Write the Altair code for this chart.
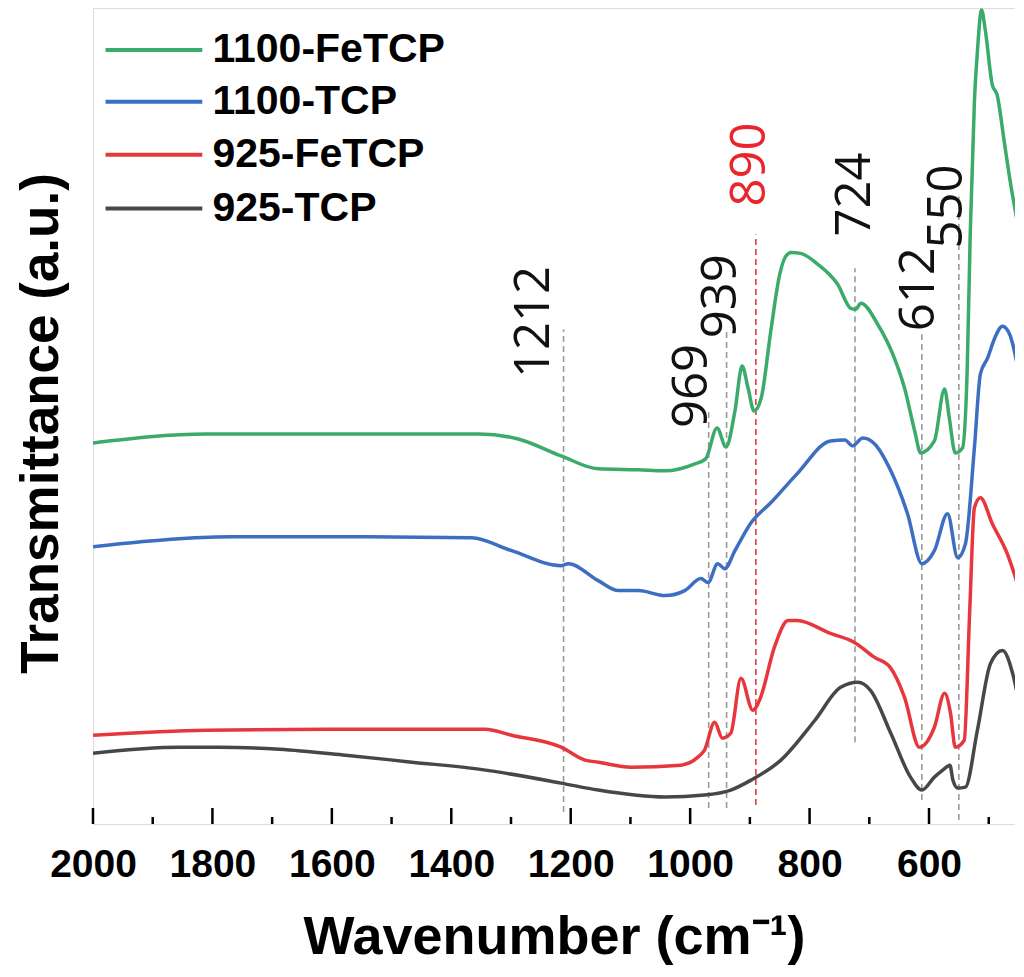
import altair as alt
import pandas as pd

# ---------------- data ----------------
series_names = ["1100-FeTCP", "1100-TCP", "925-FeTCP", "925-TCP"]
series_colors = ["#3aab6b", "#3c6ec2", "#e6373d", "#474747"]

green_wn = [2000, 1810, 1655, 1488, 1354, 1288, 1216, 1154, 1087, 1042,
            992, 974, 955, 940, 925, 913, 903, 893, 881, 865,
            850, 840, 831, 815, 786, 753, 731, 723, 714, 686,
            658, 641, 624, 614, 591, 574, 566, 556, 544, 536,
            531, 524, 519, 512, 506, 494, 486, 474, 464, 450]
green_t = [382, 391, 391, 391, 391, 386, 369, 356, 355, 354,
           361, 366, 397, 378, 414, 459, 437, 414, 427, 494,
           551, 569, 573, 572, 561, 541, 517, 516, 522, 501,
           467, 437, 394, 372, 384, 436, 407, 372, 377, 457,
           591, 724, 774, 816, 797, 741, 731, 684, 644, 597]

blue_wn = [2000, 1856, 1767, 1572, 1366, 1299, 1216, 1204, 1154, 1120,
           1087, 1042, 1009, 982, 970, 954, 942, 925, 898, 865,
           821, 765, 741, 728, 711, 691, 664, 636, 612, 591,
           569, 552, 539, 524, 514, 502, 490, 477, 465, 450]
blue_t = [278, 286, 288, 288, 287, 274, 259, 261, 244, 234,
          234, 229, 234, 246, 242, 261, 256, 274, 302, 322,
          351, 384, 385, 379, 387, 381, 354, 311, 261, 274,
          311, 267, 281, 377, 451, 467, 487, 499, 491, 454]

red_wn = [2000, 1810, 1571, 1343, 1299, 1216, 1176, 1154, 1099, 1016,
          987, 976, 959, 946, 932, 915, 895, 882, 859, 836,
          821, 765, 725, 691, 665, 641, 616, 591, 574, 564,
          556, 541, 532, 524, 514, 494, 469, 450]
red_t = [89, 94, 95, 95, 89, 77, 64, 62, 57, 59,
         67, 74, 102, 86, 91, 146, 114, 127, 177, 204,
         204, 191, 182, 167, 157, 127, 77, 97, 131, 111,
         77, 84, 211, 317, 327, 301, 271, 237]

gray_wn = [2000, 1856, 1789, 1688, 1577, 1466, 1354, 1216, 1154, 1042,
           976, 932, 898, 848, 791, 748, 719, 698, 664, 631,
           612, 591, 577, 565, 560, 552, 539, 519, 497, 477,
           460, 450]
gray_t = [71, 77, 77, 75, 69, 62, 55, 41, 34, 27,
          29, 34, 44, 64, 104, 137, 142, 134, 91, 47,
          34, 47, 54, 59, 44, 36, 37, 94, 161, 174,
          151, 124]

# peak annotations
ann_labels = ["1212", "969", "939", "890", "724", "612", "550"]
ann_label_x = [1237, 972, 923, 875, 699, 591, 544]
ann_label_y = [447, 397, 487, 619, 589, 494, 577]
ann_colors = ["#111111", "#111111", "#111111", "#e8262b", "#111111", "#111111", "#111111"]
ann_line_x = [1212, 969, 939, 890, 724, 612, 550]
ann_line_top = [496, 414, 494, 591, 557, 491, 629]
ann_line_bottom = [12, 16, 16, 19, 82, 24, 4]
ann_line_colors = ["#9a9a9a", "#9a9a9a", "#9a9a9a", "#e03c3c", "#9a9a9a", "#9a9a9a", "#9a9a9a"]

# axis ticks
major_ticks = [2000, 1800, 1600, 1400, 1200, 1000, 800, 600]
minor_ticks = [1900, 1700, 1500, 1300, 1100, 900, 700, 500]

# legend placement (data units)
legend_y = [776, 724, 671, 617]
legend_x1, legend_x2, legend_text_x = 1979, 1817, 1800

# ---------------- build tables ----------------
frames = []
for name, wn, t in zip(series_names,
                       [green_wn, blue_wn, red_wn, gray_wn],
                       [green_t, blue_t, red_t, gray_t]):
    frames.append(pd.DataFrame({"wn": wn, "t": t, "series": name}))
df = pd.concat(frames, ignore_index=True)

ann_df = pd.DataFrame({"label": ann_labels, "x": ann_label_x, "y": ann_label_y, "c": ann_colors})
dash_df = pd.DataFrame({"x": ann_line_x, "y1": ann_line_bottom, "y2": ann_line_top, "c": ann_line_colors})
tick_df = pd.DataFrame({
    "x": major_ticks + minor_ticks,
    "y1": [0] * (len(major_ticks) + len(minor_ticks)),
    "y2": [16] * len(major_ticks) + [7] * len(minor_ticks),
})
leg_df = pd.DataFrame({
    "series": series_names, "y": legend_y,
    "x1": [legend_x1] * 4, "x2": [legend_x2] * 4, "tx": [legend_text_x] * 4,
})

x_scale = alt.Scale(domain=[2000, 456], nice=False, zero=False)
y_scale = alt.Scale(domain=[0, 818], nice=False, zero=False)
color_scale = alt.Scale(domain=series_names, range=series_colors)

x_axis = alt.Axis(
    title="Wavenumber (cm⁻¹)", values=major_ticks, format="d",
    labelFont="Liberation Sans", labelFontSize=39, labelFontWeight="bold",
    labelColor="black", labelPadding=52, labelBaseline="alphabetic",
    labelFlush=False, labelOverlap=False,
    ticks=False, tickSize=0, domain=False, grid=False,
    titleFont="Liberation Sans", titleFontSize=54, titleFontWeight="bold",
    titleColor="black", titleY=129, titleBaseline="alphabetic",
)
y_axis = alt.Axis(
    title="Transmittance (a.u.)", labels=False, ticks=False, domain=False, grid=False,
    titleFont="Liberation Sans", titleFontSize=53, titleFontWeight="bold",
    titleColor="black", titleAngle=270, titleX=-36, titleY=415,
    titleBaseline="alphabetic", titleAlign="center",
)

lines = alt.Chart(df).mark_line(strokeWidth=3.5, clip=True, interpolate="monotone").encode(
    x=alt.X("wn:Q", scale=x_scale, axis=x_axis),
    y=alt.Y("t:Q", scale=y_scale, axis=y_axis),
    color=alt.Color("series:N", scale=color_scale, legend=None),
    detail="series:N",
)

dashes = alt.Chart(dash_df).mark_rule(strokeWidth=1.6, strokeDash=[6, 4]).encode(
    x=alt.X("x:Q", scale=x_scale),
    y=alt.Y("y1:Q", scale=y_scale),
    y2="y2:Q",
    color=alt.Color("c:N", scale=None),
)

ann_text = alt.Chart(ann_df).mark_text(
    angle=270, align="left", baseline="alphabetic", font="Open Sans", fontSize=49
).encode(
    x=alt.X("x:Q", scale=x_scale),
    y=alt.Y("y:Q", scale=y_scale),
    text="label:N",
    color=alt.Color("c:N", scale=None),
)

ticks = alt.Chart(tick_df).mark_rule(strokeWidth=2.5, color="black").encode(
    x=alt.X("x:Q", scale=x_scale),
    y=alt.Y("y1:Q", scale=y_scale),
    y2="y2:Q",
)

leg_lines = alt.Chart(leg_df).mark_rule(strokeWidth=4).encode(
    x=alt.X("x1:Q", scale=x_scale),
    x2="x2:Q",
    y=alt.Y("y:Q", scale=y_scale),
    color=alt.Color("series:N", scale=color_scale, legend=None),
)
leg_text = alt.Chart(leg_df).mark_text(
    align="left", baseline="middle", font="Liberation Sans", fontSize=41,
    fontWeight="bold", color="black"
).encode(
    x=alt.X("tx:Q", scale=x_scale),
    y=alt.Y("y:Q", scale=y_scale),
    text="series:N",
)

chart = alt.layer(dashes, lines, ann_text, ticks, leg_lines, leg_text).properties(
    width=922, height=816,
    autosize=alt.AutoSizeParams(type="none"),
    padding={"left": 85, "top": 0, "right": 0, "bottom": 141},
).configure_view(stroke="black", strokeWidth=3).configure(background="white")

chart.save("out.html", embed_options={"renderer": "svg", "actions": False})
